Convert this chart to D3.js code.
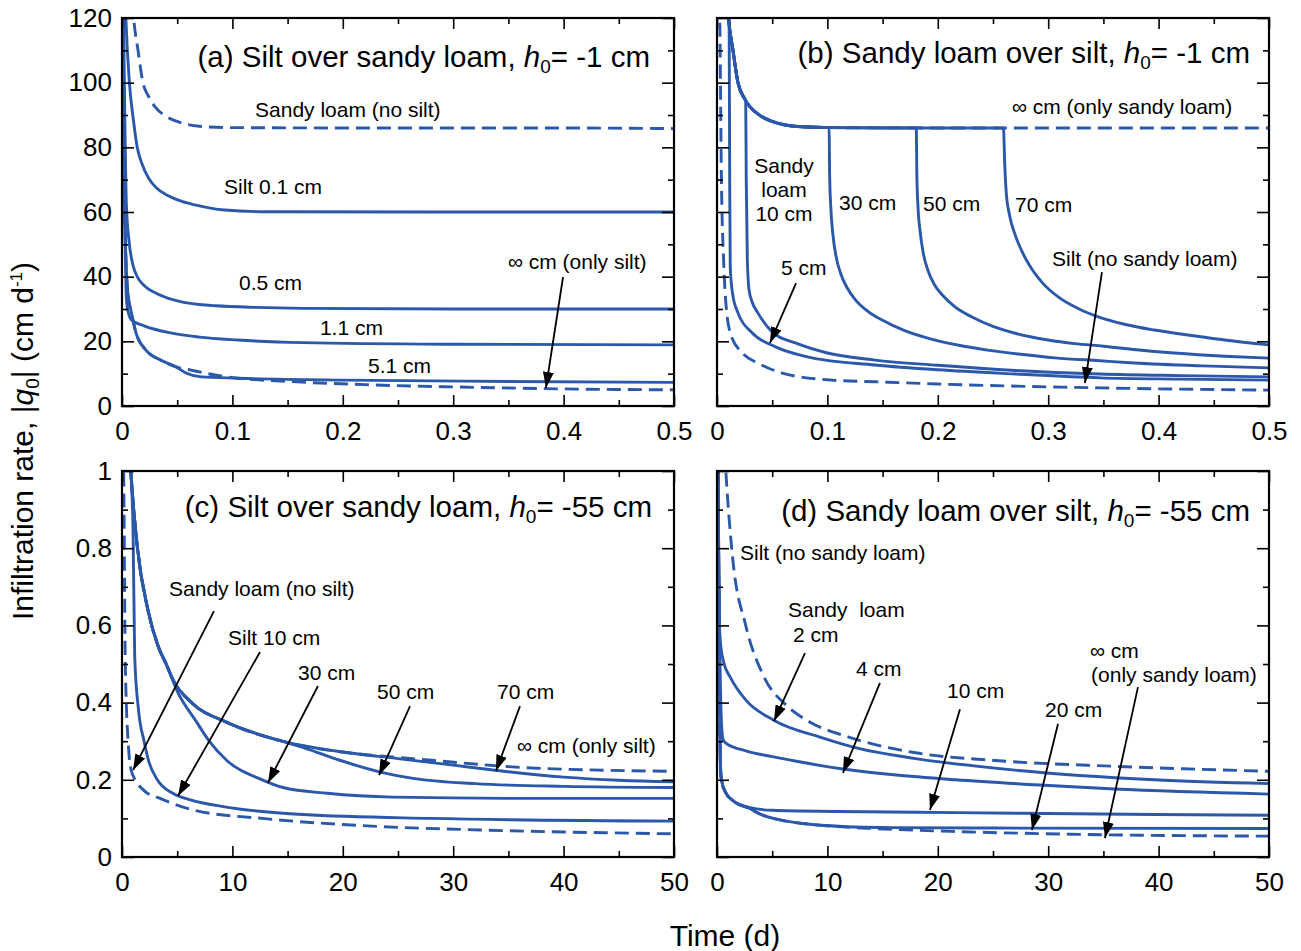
<!DOCTYPE html>
<html>
<head>
<meta charset="utf-8">
<script src="https://cdn.jsdelivr.net/npm/d3@7"></script>
<style>
  body { margin: 0; background: #fff; }
  svg { display: block; font-family: "Liberation Sans", Arial, Helvetica, sans-serif; }
</style>
</head>
<body>
<svg id="chart" width="1301" height="951"></svg>
<script>
// ---- data: [time (d), |q0| (cm/d)] ----

// (a) silt over sandy loam, h0 = -1 cm
const aSandyLoam = [[0.0095,125],[0.0106,120],[0.0145,110],[0.019,100],[0.024,95.8],[0.03,92.5],[0.04,89.6],[0.05,88],[0.07,86.5],[0.1,86.1],[0.2,86],[0.38,86],[0.5,85.8]];
const aSilt01 = [[0.003,125],[0.0035,120],[0.0067,100],[0.0105,88],[0.0138,80],[0.018,75],[0.024,70.5],[0.031,67.5],[0.042,65],[0.055,63.2],[0.066,62.2],[0.08,61.2],[0.093,60.6],[0.125,60.1],[0.3,60],[0.5,60]];
const aSilt05 = [[0.0012,125],[0.0025,90],[0.004,62],[0.0067,50],[0.01,43.5],[0.0138,40],[0.02,37.3],[0.03,35],[0.042,33.3],[0.054,32.2],[0.07,31.4],[0.085,31],[0.12,30.5],[0.164,30.2],[0.3,30],[0.5,30]];
const aSilt11 = [[0.001,125],[0.002,80],[0.004,33],[0.006,28.5],[0.009,26.5],[0.02,24.8],[0.044,22.6],[0.07,21.3],[0.105,20.4],[0.164,19.6],[0.3,19.1],[0.5,18.9]];
const aSilt51 = [[0.0008,125],[0.002,70],[0.004,42],[0.006,33],[0.008,29.7],[0.0127,22.6],[0.0217,17.3],[0.035,14.2],[0.049,12.1],[0.058,10.2],[0.0716,9.0],[0.105,8.6],[0.2,8.0],[0.35,7.6],[0.5,7.3]];
const aSiltOnly = [[0.0008,125],[0.002,70],[0.004,42],[0.006,33],[0.008,29.7],[0.0127,22.6],[0.0217,17.3],[0.035,14.2],[0.049,12.1],[0.0625,11.1],[0.084,9.6],[0.105,8.6],[0.15,7.6],[0.22,6.6],[0.3,5.9],[0.36,5.5],[0.42,5.2],[0.5,5.0]];

// (b) sandy loam over silt, h0 = -1 cm
const bSandyOnly = [[0.0095,125],[0.0105,120],[0.0145,110],[0.019,100],[0.025,95],[0.03,92.5],[0.04,89.6],[0.05,88],[0.07,86.5],[0.1,86.1],[0.2,86],[0.5,86]];
const bSand5 = [[0.0095,125],[0.0105,120],[0.011,117],[0.0115,70],[0.012,43],[0.014,35],[0.019,28.8],[0.032,22.6],[0.053,18.3],[0.082,15.2],[0.143,12.7],[0.2,11.2],[0.27,9.9],[0.347,8.7],[0.42,8.3],[0.5,8.0]];
const bSand10 = [[0.0095,125],[0.0105,120],[0.0145,110],[0.019,100],[0.025,95.2],[0.026,94.5],[0.0265,70],[0.0275,45],[0.029,36],[0.032,32],[0.037,28.8],[0.051,22.6],[0.071,19.5],[0.1,16.4],[0.143,14.2],[0.2,12.6],[0.27,11],[0.347,9.9],[0.42,9.4],[0.5,9.0]];
const bSand30 = [[0.0095,125],[0.0105,120],[0.0145,110],[0.019,100],[0.025,95],[0.03,92.5],[0.04,89.6],[0.05,88],[0.07,86.5],[0.1,86.1],[0.1016,86],[0.102,72],[0.103,62],[0.105,53],[0.108,46],[0.112,41],[0.118,36.5],[0.125,33],[0.137,29.2],[0.15,26.5],[0.17,23.3],[0.195,20.6],[0.22,18.7],[0.245,17.3],[0.275,16],[0.306,14.9],[0.347,14.0],[0.378,13.3],[0.44,12.4],[0.5,11.8]];
const bSand50 = [[0.0095,125],[0.0105,120],[0.0145,110],[0.019,100],[0.025,95],[0.03,92.5],[0.04,89.6],[0.05,88],[0.07,86.5],[0.1,86.1],[0.15,86],[0.1805,86],[0.181,72],[0.182,62],[0.184,54],[0.187,47],[0.191,42],[0.197,37.5],[0.205,34],[0.215,30.8],[0.231,27.5],[0.25,24.6],[0.27,22.5],[0.3,20.4],[0.324,19.3],[0.35,18.5],[0.38,17.4],[0.414,16.4],[0.46,15.4],[0.5,14.8]];
const bSand70 = [[0.0095,125],[0.0105,120],[0.0145,110],[0.019,100],[0.025,95],[0.03,92.5],[0.04,89.6],[0.05,88],[0.07,86.5],[0.1,86.1],[0.2,86],[0.2595,86],[0.2605,76],[0.262,66],[0.265,59],[0.27,53],[0.276,48],[0.283,43.5],[0.295,38],[0.31,33.5],[0.328,30],[0.346,27.5],[0.37,25.2],[0.396,23.5],[0.43,21.8],[0.46,20.4],[0.5,18.9]];
const bSiltOnly = [[0.0022,125],[0.0025,120],[0.004,70],[0.006,45],[0.0072,36],[0.012,22.6],[0.023,16.4],[0.037,13.3],[0.059,10.2],[0.104,8.0],[0.143,7.5],[0.2,6.8],[0.347,5.6],[0.5,4.9]];

// (c) silt over sandy loam, h0 = -55 cm
const cSandyLoam = [[0.12,1.05],[0.15,1.0],[0.3,0.5],[0.6,0.28],[0.8,0.228],[1.2,0.2],[2,0.172],[3.6,0.15],[6.7,0.12],[12.7,0.1],[22.6,0.08],[32.5,0.07],[50,0.06]];
const cSiltOnly = [[0.7,1.05],[0.8,1.0],[1.4,0.8],[2.35,0.64],[3.3,0.544],[4.0,0.5],[4.6,0.46],[6.3,0.4],[9.4,0.35],[14.5,0.3],[20.5,0.27],[25,0.258],[28.3,0.25],[36.2,0.232],[50,0.222]];
const cSilt10 = [[0.72,1.05],[0.8,1.0],[1.0,0.85],[1.15,0.52],[1.5,0.38],[2.0,0.3],[2.4,0.25],[3.2,0.2],[4.6,0.165],[6.2,0.148],[9.3,0.13],[16.4,0.11],[28,0.1],[50,0.093]];
const cSilt30 = [[0.7,1.05],[0.8,1.0],[1.4,0.8],[2.35,0.64],[3.3,0.544],[4.0,0.5],[5.0,0.43],[6.75,0.35],[7.9,0.3],[9.5,0.25],[12.7,0.2],[14.6,0.18],[18.6,0.165],[24.5,0.155],[35,0.152],[50,0.152]];
const cSilt50 = [[0.7,1.05],[0.8,1.0],[1.4,0.8],[2.35,0.64],[3.3,0.544],[4.0,0.5],[4.6,0.46],[6.3,0.4],[9.4,0.35],[14.5,0.3],[16.5,0.283],[19.8,0.25],[23.4,0.22],[26.5,0.203],[32,0.19],[40,0.183],[50,0.18]];
const cSilt70 = [[0.7,1.05],[0.8,1.0],[1.4,0.8],[2.35,0.64],[3.3,0.544],[4.0,0.5],[4.6,0.46],[6.3,0.4],[9.4,0.35],[14.5,0.3],[20.5,0.27],[25,0.255],[30,0.238],[34,0.224],[40,0.207],[45,0.199],[50,0.195]];

// (d) sandy loam over silt, h0 = -55 cm
const dSiltOnly = [[0.7,1.05],[0.8,1.0],[1.4,0.78],[2.6,0.6],[4.2,0.47],[6.4,0.39],[8.4,0.35],[12,0.31],[18,0.27],[25.2,0.25],[36,0.235],[50,0.222]];
const dSand2 = [[0.1,1.0],[0.15,0.8],[0.2,0.62],[0.3,0.56],[0.6,0.505],[1.2,0.466],[2.6,0.407],[5.1,0.355],[9.4,0.31],[13,0.28],[18,0.255],[27,0.225],[39.6,0.2],[50,0.19]];
const dSand4 = [[0.1,1.0],[0.15,0.8],[0.25,0.55],[0.4,0.35],[0.55,0.305],[0.8,0.295],[2.6,0.275],[5,0.26],[7.2,0.248],[11.4,0.228],[16,0.213],[21.6,0.2],[28.8,0.187],[36,0.176],[50,0.163]];
const dSand10 = [[0.1,1.0],[0.15,0.75],[0.22,0.45],[0.3,0.25],[0.4,0.2],[0.8,0.166],[1.5,0.145],[3.0,0.128],[5,0.121],[10.9,0.118],[21.6,0.115],[39.6,0.11],[50,0.108]];
const dSand20 = [[0.1,1.0],[0.15,0.75],[0.22,0.45],[0.3,0.25],[0.4,0.2],[0.8,0.166],[1.5,0.145],[3.0,0.125],[4,0.11],[5.7,0.096],[8,0.086],[11.4,0.079],[16,0.076],[25,0.075],[50,0.074]];
const dSandOnly = [[0.1,1.0],[0.15,0.75],[0.22,0.45],[0.3,0.25],[0.4,0.2],[0.8,0.166],[1.5,0.145],[3.0,0.125],[4,0.11],[5.7,0.096],[8,0.086],[11.4,0.078],[14,0.074],[21.6,0.066],[32,0.059],[50,0.054]];

// ticks
const xTicksShort = [0, 0.1, 0.2, 0.3, 0.4, 0.5];
const xMinorShort = [0.05, 0.15, 0.25, 0.35, 0.45];
const xTicksLong = [0, 10, 20, 30, 40, 50];
const xMinorLong = [5, 15, 25, 35, 45];
const yTicksHigh = [0, 20, 40, 60, 80, 100, 120];
const yMinorHigh = [10, 30, 50, 70, 90, 110];
const yTicksLow = [0, 0.2, 0.4, 0.6, 0.8, 1];
const yMinorLow = [0.1, 0.3, 0.5, 0.7, 0.9];

// annotations: [t, value, text, anchor]
const aLabels = [[0.1205,89.4,'Sandy loam (no silt)'],[0.0924,65.6,'Silt 0.1 cm'],[0.106,35.9,'0.5 cm'],[0.1793,22.0,'1.1 cm'],[0.2228,10.2,'5.1 cm'],[0.3496,42.4,'\u221e cm (only silt)']];
const aArrows = [[0.3995,39.9,0.384,5.6]];
const bLabels = [[0.2672,90.3,'\u221e cm (only sandy loam)'],[0.0607,72.1,'Sandy','middle'],[0.0607,64.6,'loam','middle'],[0.0607,57.2,'10 cm','middle'],[0.1105,60.6,'30 cm'],[0.1866,60.3,'50 cm'],[0.2699,60.0,'70 cm'],[0.058,40.5,'5 cm'],[0.3034,43.3,'Silt (no sandy loam)']];
const bArrows = [[0.0716,38.0,0.048,19.5],[0.3487,41.4,0.3333,7.1]];
const cLabels = [[4.26,0.676,'Sandy loam (no silt)'],[9.6,0.549,'Silt 10 cm'],[15.94,0.4585,'30 cm'],[23.1,0.409,'50 cm'],[33.97,0.409,'70 cm'],[35.78,0.269,'\u221e cm (only silt)']];
const cArrows = [[8.33,0.637,1.0,0.225],[12.5,0.531,5.07,0.158],[17.75,0.443,13.22,0.192],[26.09,0.391,23.28,0.212],[36.05,0.391,33.88,0.223]];
const dLabels = [[2.08,0.769,'Silt (no sandy loam)'],[6.43,0.622,'Sandy\u00a0 loam'],[6.88,0.557,'2 cm'],[12.59,0.469,'4 cm'],[20.83,0.412,'10 cm'],[29.71,0.363,'20 cm'],[33.79,0.516,'\u221e cm'],[33.88,0.453,'(only sandy loam)']];
const dArrows = [[7.97,0.528,5.16,0.352],[14.76,0.451,11.41,0.218],[22.01,0.383,19.29,0.122],[30.89,0.345,28.53,0.07],[38.13,0.440,35.14,0.049]];

const blue = '#2b58aa';

const panels = [
  { left: 122, right: 674, top: 18, bottom: 406, xDom: [0, 0.5], yDom: [0, 120],
    xMajor: xTicksShort, xMinor: xMinorShort, yMajor: yTicksHigh, yMinor: yMinorHigh, yLabels: true,
    title: ['(a) Silt over sandy loam, ', '= -1 cm'], titleX: 650, titleY: 67,
    series: [[aSandyLoam, true], [aSiltOnly, true], [aSilt01], [aSilt05], [aSilt11], [aSilt51]],
    labels: aLabels, arrows: aArrows },
  { left: 717, right: 1269, top: 18, bottom: 406, xDom: [0, 0.5], yDom: [0, 120],
    xMajor: xTicksShort, xMinor: xMinorShort, yMajor: yTicksHigh, yMinor: yMinorHigh, yLabels: false,
    title: ['(b) Sandy loam over silt, ', '= -1 cm'], titleX: 1250, titleY: 63,
    series: [[bSandyOnly, true], [bSiltOnly, true], [bSand5], [bSand10], [bSand30], [bSand50], [bSand70]],
    labels: bLabels, arrows: bArrows },
  { left: 122, right: 674, top: 471, bottom: 857, xDom: [0, 50], yDom: [0, 1],
    xMajor: xTicksLong, xMinor: xMinorLong, yMajor: yTicksLow, yMinor: yMinorLow, yLabels: true,
    title: ['(c) Silt over sandy loam, ', '= -55 cm'], titleX: 652, titleY: 517,
    series: [[cSandyLoam, true], [cSiltOnly, true], [cSilt10], [cSilt30], [cSilt50], [cSilt70]],
    labels: cLabels, arrows: cArrows },
  { left: 717, right: 1269, top: 471, bottom: 857, xDom: [0, 50], yDom: [0, 1],
    xMajor: xTicksLong, xMinor: xMinorLong, yMajor: yTicksLow, yMinor: yMinorLow, yLabels: false,
    title: ['(d) Sandy loam over silt, ', '= -55 cm'], titleX: 1250, titleY: 521,
    series: [[dSiltOnly, true], [dSandOnly, true], [dSand2], [dSand4], [dSand10], [dSand20]],
    labels: dLabels, arrows: dArrows }
];

const svg = d3.select('#chart');
const defs = svg.append('defs');
defs.append('marker')
  .attr('id', 'head')
  .attr('viewBox', '0 0 16 11')
  .attr('refX', 16).attr('refY', 5.5)
  .attr('markerWidth', 16).attr('markerHeight', 11)
  .attr('markerUnits', 'userSpaceOnUse')
  .attr('orient', 'auto')
  .append('path').attr('d', 'M0,0 L16,5.5 L0,11 Z').attr('fill', '#000');

panels.forEach((p, i) => {
  const x = d3.scaleLinear().domain(p.xDom).range([p.left, p.right]);
  const y = d3.scaleLinear().domain(p.yDom).range([p.bottom, p.top]);
  const g = svg.append('g');

  defs.append('clipPath').attr('id', 'clip' + i)
    .append('rect')
    .attr('x', p.left).attr('y', p.top)
    .attr('width', p.right - p.left).attr('height', p.bottom - p.top);

  const line = d3.line().x(d => x(d[0])).y(d => y(d[1])).curve(d3.curveMonotoneX);
  const lines = g.append('g').attr('clip-path', `url(#clip${i})`);
  lines.selectAll('path')
    .data(p.series)
    .enter()
    .append('path')
    .attr('d', d => line(d[0]))
    .attr('fill', 'none')
    .attr('stroke', blue)
    .attr('stroke-width', 2.9)
    .attr('stroke-dasharray', d => d[1] ? '14,7' : null);

  // ticks on all four sides, pointing inward
  const addAxis = (axis, tx, ty, labelled) => {
    const a = g.append('g').attr('transform', `translate(${tx},${ty})`).call(axis);
    a.select('.domain').remove();
    a.attr('font-family', null).attr('font-size', 26);
    a.selectAll('line').attr('stroke-width', 1.6);
    if (!labelled) a.selectAll('text').remove();
  };
  addAxis(d3.axisBottom(x).tickValues(p.xMajor).tickSize(-11).tickPadding(16).tickFormat(d => d), 0, p.bottom, true);
  addAxis(d3.axisBottom(x).tickValues(p.xMinor).tickSize(-6).tickFormat(''), 0, p.bottom, false);
  addAxis(d3.axisTop(x).tickValues(p.xMajor).tickSize(-11).tickFormat(''), 0, p.top, false);
  addAxis(d3.axisTop(x).tickValues(p.xMinor).tickSize(-6).tickFormat(''), 0, p.top, false);
  addAxis(d3.axisLeft(y).tickValues(p.yMajor).tickSize(-12).tickPadding(10).tickFormat(d => d), p.left, 0, p.yLabels);
  addAxis(d3.axisLeft(y).tickValues(p.yMinor).tickSize(-6).tickFormat(''), p.left, 0, false);
  addAxis(d3.axisRight(y).tickValues(p.yMajor).tickSize(-12).tickFormat(''), p.right, 0, false);
  addAxis(d3.axisRight(y).tickValues(p.yMinor).tickSize(-6).tickFormat(''), p.right, 0, false);

  g.append('rect')
    .attr('x', p.left).attr('y', p.top)
    .attr('width', p.right - p.left).attr('height', p.bottom - p.top)
    .attr('fill', 'none').attr('stroke', '#000').attr('stroke-width', 2.2);

  // panel title
  const t = g.append('text')
    .attr('x', p.titleX).attr('y', p.titleY)
    .attr('text-anchor', 'end').attr('font-size', 29.5);
  t.append('tspan').text(p.title[0]);
  t.append('tspan').attr('font-style', 'italic').text('h');
  t.append('tspan').attr('font-size', 19).attr('dy', 6).text('0');
  t.append('tspan').attr('dy', -6).text(p.title[1]);

  // annotations
  g.selectAll('.lab')
    .data(p.labels)
    .enter()
    .append('text')
    .attr('x', d => x(d[0])).attr('y', d => y(d[1]))
    .attr('text-anchor', d => d[3] || 'start')
    .attr('font-size', 21)
    .text(d => d[2]);

  g.selectAll('.arr')
    .data(p.arrows)
    .enter()
    .append('line')
    .attr('x1', d => x(d[0])).attr('y1', d => y(d[1]))
    .attr('x2', d => x(d[2])).attr('y2', d => y(d[3]))
    .attr('stroke', '#000').attr('stroke-width', 1.8)
    .attr('marker-end', 'url(#head)');
});

// shared axis titles
const yl = svg.append('text')
  .attr('transform', 'translate(33,441) rotate(-90)')
  .attr('text-anchor', 'middle')
  .attr('font-size', 30);
yl.append('tspan').text('Infiltration rate, |');
yl.append('tspan').attr('font-style', 'italic').text('q');
yl.append('tspan').attr('font-size', 19).attr('dy', 6).text('0');
yl.append('tspan').attr('dy', -6).text('| (cm d');
yl.append('tspan').attr('font-size', 17).attr('dy', -11).text('-1');
yl.append('tspan').attr('dy', 11).text(')');

svg.append('text')
  .attr('x', 725).attr('y', 946)
  .attr('text-anchor', 'middle')
  .attr('font-size', 30)
  .text('Time (d)');
</script>
</body>
</html>
